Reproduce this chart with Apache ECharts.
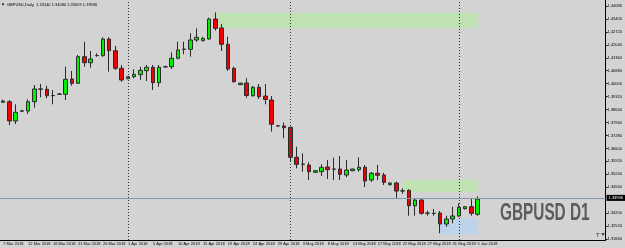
<!DOCTYPE html>
<html>
<head>
<meta charset="utf-8">
<script src="https://cdn.jsdelivr.net/npm/echarts@6/dist/echarts.min.js"></script>
<style>
  html, body { margin: 0; padding: 0; background: #d3d3d3; }
  #chart { width: 625px; height: 248px; }
</style>
</head>
<body>
<div id="chart"></div>
<script>
// daily bars, broker sends sunday bars, no bar on good friday
var dates = [
  '7 Mar 2018','8 Mar 2018','9 Mar 2018','11 Mar 2018','12 Mar 2018','13 Mar 2018','14 Mar 2018','15 Mar 2018','16 Mar 2018','18 Mar 2018',
  '19 Mar 2018','20 Mar 2018','21 Mar 2018','22 Mar 2018','23 Mar 2018','25 Mar 2018','26 Mar 2018','27 Mar 2018','28 Mar 2018','29 Mar 2018',
  '1 Apr 2018','2 Apr 2018','3 Apr 2018','4 Apr 2018','5 Apr 2018','6 Apr 2018','8 Apr 2018','9 Apr 2018','10 Apr 2018','11 Apr 2018',
  '12 Apr 2018','13 Apr 2018','15 Apr 2018','16 Apr 2018','17 Apr 2018','18 Apr 2018','19 Apr 2018','20 Apr 2018','22 Apr 2018','23 Apr 2018',
  '24 Apr 2018','25 Apr 2018','26 Apr 2018','27 Apr 2018','29 Apr 2018','30 Apr 2018','1 May 2018','2 May 2018','3 May 2018','4 May 2018',
  '6 May 2018','7 May 2018','8 May 2018','9 May 2018','10 May 2018','11 May 2018','13 May 2018','14 May 2018','15 May 2018','16 May 2018',
  '17 May 2018','18 May 2018','20 May 2018','21 May 2018','22 May 2018','23 May 2018','24 May 2018','25 May 2018','27 May 2018','28 May 2018',
  '29 May 2018','30 May 2018','31 May 2018','1 Jun 2018','3 Jun 2018','4 Jun 2018','5 Jun 2018'
]
var opens = [
  1.39021,1.39053,1.38039,1.38554,1.38564,1.39053,1.39704,1.39704,1.39368,1.39457,
  1.39441,1.40245,1.40019,1.41417,1.41101,1.41469,1.41469,1.42346,1.41732,1.40807,
  1.40261,1.40366,1.40471,1.40681,1.40860,1.40051,1.40891,1.40891,1.41333,1.41805,
  1.41805,1.42294,1.42257,1.42346,1.43397,1.42924,1.42068,1.40807,1.39946,1.40035,
  1.39368,1.39809,1.39352,1.39142,1.37776,1.37776,1.37708,1.36132,1.35764,1.35728,
  1.35344,1.35376,1.35623,1.35517,1.35517,1.35202,1.35428,1.35481,1.35607,1.34940,
  1.35292,1.35202,1.34693,1.34782,1.34362,1.34399,1.33590,1.33889,1.33190,1.33190,
  1.33206,1.32628,1.32891,1.33049,1.33432,1.33537,1.33140
]
var highs = [
  1.39168,1.39142,1.38916,1.38617,1.39179,1.39930,1.39983,1.39893,1.39667,1.39510,
  1.40891,1.40665,1.41506,1.42205,1.41716,1.41595,1.42436,1.42436,1.41979,1.40981,
  1.40403,1.40755,1.40891,1.40981,1.40981,1.40981,1.40944,1.41648,1.42205,1.42205,
  1.42646,1.42908,1.42467,1.43465,1.43749,1.43134,1.42467,1.40891,1.40051,1.40282,
  1.39877,1.39983,1.39983,1.39352,1.37813,1.37950,1.37739,1.36689,1.36342,1.35869,
  1.35449,1.35764,1.35990,1.36111,1.36200,1.35990,1.35533,1.36132,1.35728,1.35360,
  1.35728,1.35323,1.34808,1.34850,1.34504,1.34451,1.33990,1.33926,1.33327,1.33416,
  1.33311,1.33064,1.33537,1.33716,1.33574,1.33978,1.34080
]
var lows = [
  1.38984,1.37829,1.37881,1.38512,1.38407,1.38738,1.39284,1.39231,1.38916,1.39405,
  1.39142,1.39893,1.39983,1.40891,1.40839,1.41417,1.41417,1.40629,1.40718,1.40103,
  1.40229,1.40282,1.40193,1.40140,1.39667,1.39841,1.40839,1.40770,1.41280,1.41543,
  1.41417,1.42189,1.42215,1.42320,1.42782,1.41716,1.40665,1.40051,1.39930,1.39263,
  1.39315,1.39195,1.38916,1.37477,1.37739,1.37130,1.35901,1.35554,1.35376,1.34940,
  1.35307,1.35150,1.34992,1.34940,1.34940,1.35081,1.35402,1.35376,1.34572,1.34835,
  1.34940,1.34677,1.34651,1.33978,1.34220,1.33064,1.33064,1.33117,1.33064,1.33064,
  1.32140,1.32486,1.32665,1.32996,1.33390,1.33064,1.33059
]
var closes = [
  1.39090,1.38039,1.38496,1.38575,1.39053,1.39720,1.39725,1.39368,1.39378,1.39447,
  1.40229,1.40019,1.41417,1.41101,1.41296,1.41480,1.42346,1.41732,1.40807,1.40193,
  1.40366,1.40492,1.40702,1.40860,1.40051,1.40860,1.40881,1.41333,1.41769,1.41816,
  1.42294,1.42436,1.42373,1.43397,1.42908,1.42068,1.40770,1.40103,1.40025,1.39378,
  1.39809,1.39315,1.39168,1.37866,1.37787,1.37687,1.36132,1.35764,1.35775,1.35376,
  1.35428,1.35607,1.35481,1.35507,1.35239,1.35465,1.35517,1.35607,1.34887,1.35292,
  1.35187,1.34819,1.34782,1.34362,1.34372,1.33590,1.33889,1.33190,1.33201,1.33180,
  1.32628,1.32891,1.33049,1.33506,1.33537,1.33190,1.33936
]
// price scale labels (1.33880 is hidden under the bid box)
var yTicks = [1.44080,1.43400,1.42720,1.42040,1.41360,1.40680,1.40000,1.39320,1.38640,
  1.37960,1.37280,1.36600,1.35920,1.35240,1.34560,1.33200,1.32520,1.31840]
// month period separators
var separators = ['1 Apr 2018','1 May 2018','1 Jun 2018']
// supply / demand rectangles
var zoneFrom = ['17 Apr 2018','22 May 2018','29 May 2018']
var zoneTo = ['5 Jun 2018','5 Jun 2018','5 Jun 2018']
var zoneTop = [1.43728,1.34940,1.32891]
var zoneBottom = [1.42940,1.34325,1.32103]

var symbol = 'GBPUSD'
var last = dates.length - 1

var candles = dates.map(function (d, i) {
  return [opens[i], closes[i], lows[i], highs[i]]
})
var zoneColors = ['#bfe2b2', '#bfe2b2', '#bcd3ec']
var zones = zoneFrom.map(function (f, i) {
  return [
    { xAxis: f, yAxis: zoneTop[i], itemStyle: { color: zoneColors[i] } },
    { xAxis: zoneTo[i], yAxis: zoneBottom[i] }
  ]
})

var chart = echarts.init(document.getElementById('chart'), null, { renderer: 'canvas' })
chart.setOption({
  animation: false,
  backgroundColor: '#d3d3d3',
  textStyle: { fontFamily: 'Liberation Sans, Arial, sans-serif' },
  grid: { left: -1.5, right: 18.5, top: 0, bottom: 8 },
  xAxis: {
    type: 'category',
    data: dates,
    boundaryGap: true,
    max: 96,
    axisLine: { lineStyle: { color: '#000', width: 1 } },
    axisTick: {
      alignWithLabel: true,
      length: 2,
      lineStyle: { color: '#000' },
      interval: function (i) { return i % 4 === 0 && i <= last }
    },
    axisLabel: {
      interval: function (i) { return i % 4 === 0 && i <= last },
      formatter: function (v) { return v ? v : '' },
      fontSize: 4,
      color: '#000',
      align: 'left',
      margin: 2
    },
    splitLine: { show: false }
  },
  yAxis: {
    type: 'value',
    position: 'right',
    min: 1.31788,
    max: 1.44395,
    scale: true,
    axisLine: { show: true, lineStyle: { color: '#000', width: 1 } },
    axisTick: { show: true, length: 2, customValues: yTicks, lineStyle: { color: '#000' } },
    axisLabel: {
      customValues: yTicks,
      formatter: function (v) { return v.toFixed(5) },
      fontSize: 4,
      color: '#000',
      margin: 2
    },
    splitLine: { show: false }
  },
  series: [{
    type: 'candlestick',
    data: candles,
    barWidth: 4,
    itemStyle: {
      color: '#00f000',
      color0: '#f00000',
      borderColor: '#2b2b2b',
      borderColor0: '#2b2b2b',
      borderWidth: 1
    },
    markArea: {
      silent: true,
      z: 1,
      data: zones
    },
    markLine: {
      silent: true,
      symbol: 'none',
      data: separators.map(function (s) {
        return { xAxis: s, lineStyle: { color: '#333', type: [1, 2], width: 1 }, label: { show: false } }
      }).concat([{
        yAxis: closes[last],
        lineStyle: { color: '#8797ab', type: 'solid', width: 1 },
        label: {
          show: true,
          position: 'end',
          distance: 1,
          formatter: closes[last].toFixed(5),
          backgroundColor: '#000',
          color: '#fff',
          fontSize: 4,
          padding: [1, 2]
        }
      }])
    }
  }],
  graphic: [
    { type: 'polygon', shape: { points: [[1.5, 3.5], [4.5, 3.5], [3, 5.5]] }, style: { fill: '#000' } },
    {
      type: 'text', left: 7, top: 2.5,
      style: {
        text: symbol + ',Daily  ' + [opens[last], highs[last], lows[last], closes[last]].map(function (v) { return v.toFixed(5) }).join(' '),
        fontSize: 4, fill: '#000', fontFamily: 'Liberation Sans'
      }
    },
    {
      type: 'text', x: 500, y: 201, scaleX: 0.64,
      style: {
        text: symbol + ' D1',
        fontSize: 24, fontWeight: 'bold', fill: '#5c5c5c', fontFamily: 'Liberation Sans'
      }
    },
    { type: 'text', x: 596, y: 232, style: { text: 'T', fontSize: 6, fill: '#333', fontFamily: 'Liberation Sans' } },
    { type: 'polygon', shape: { points: [[601, 233], [605, 233], [603, 236]] }, style: { fill: '#555' } }
  ]
})
</script>
</body>
</html>
